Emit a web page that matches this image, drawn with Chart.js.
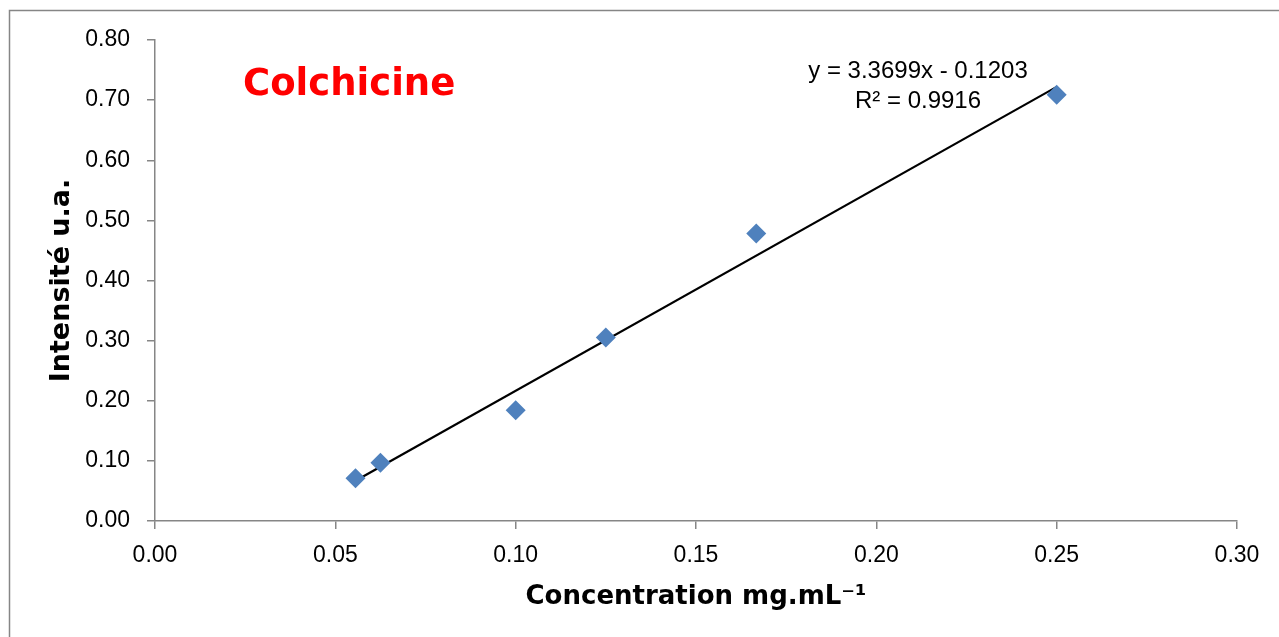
<!DOCTYPE html>
<html>
<head>
<meta charset="utf-8">
<script src="https://cdn.jsdelivr.net/npm/chart.js@4/dist/chart.umd.min.js"></script>
<style>
  html, body { margin: 0; padding: 0; background: #fff; }
  #wrap { width: 1279px; height: 637px; }
</style>
</head>
<body>
<div id="wrap"><canvas id="colchicineChart" width="1279" height="637"></canvas></div>
<script>
// concentrations (mg/mL) and measured intensity (a.u.)
const concentrations = [0.0556, 0.0625, 0.1, 0.125, 0.1667, 0.25];
const intensities = [0.071, 0.097, 0.184, 0.305, 0.478, 0.709];

// linear trendline ends
const trendX = [0.0556, 0.25];
const trendY = [0.067, 0.722];

const xTicks = [0, 0.05, 0.1, 0.15, 0.2, 0.25, 0.3];
const yTicks = [0, 0.1, 0.2, 0.3, 0.4, 0.5, 0.6, 0.7, 0.8];

const equationText = ["y = 3.3699x - 0.1203", "R² = 0.9916"];
const chartTitle = "Colchicine";

const tickFont = { family: "'Liberation Sans', Arial, sans-serif", size: 23 };
const boldFont = "'DejaVu Sans', Verdana, sans-serif";
const axisGrey = "#868686";

// frame, title and equation drawn on top of the canvas
const overlayPlugin = {
  id: "overlay",
  beforeDraw(chart) {
    const ctx = chart.ctx;
    ctx.save();
    ctx.fillStyle = "#fff";
    ctx.fillRect(0, 0, chart.width, chart.height);
    ctx.strokeStyle = axisGrey;
    ctx.lineWidth = 1.5;
    ctx.beginPath();
    ctx.moveTo(9.5, chart.height + 2);
    ctx.lineTo(9.5, 10.5);
    ctx.lineTo(chart.width + 2, 10.5);
    ctx.stroke();
    ctx.restore();
  },
  afterDraw(chart) {
    const ctx = chart.ctx;
    ctx.save();
    ctx.fillStyle = "#ff0000";
    ctx.font = "bold 37px " + boldFont;
    ctx.textBaseline = "middle";
    ctx.textAlign = "left";
    ctx.fillText(chartTitle, 243, 85);

    ctx.fillStyle = "#000";
    ctx.font = "24px 'Liberation Sans', Arial, sans-serif";
    ctx.textAlign = "center";
    ctx.fillText(equationText[0], 918, 71);
    ctx.fillText(equationText[1], 918, 101);
    ctx.restore();
  },
};

const config = {
  type: "scatter",
  data: {
    datasets: [
      {
        label: "Intensité",
        data: concentrations.map((c, i) => ({ x: c, y: intensities[i] })),
        pointStyle: "rectRot",
        pointRadius: 10,
        pointHoverRadius: 10,
        backgroundColor: "#4f81bd",
        borderColor: "#4f81bd",
        borderWidth: 0,
        order: 1,
      },
      {
        label: "Linéaire",
        type: "line",
        data: trendX.map((x, i) => ({ x: x, y: trendY[i] })),
        borderColor: "#000",
        borderWidth: 2.2,
        pointRadius: 0,
        fill: false,
        order: 2,
      },
    ],
  },
  options: {
    responsive: false,
    animation: false,
    layout: { padding: { top: 40, right: 42, left: 0, bottom: 0 } },
    plugins: {
      legend: { display: false },
      tooltip: { enabled: false },
    },
    scales: {
      x: {
        type: "linear",
        min: 0,
        max: 0.3,
        afterBuildTicks: (axis) => { axis.ticks = xTicks.map((v) => ({ value: v })); },
        afterFit: (axis) => { axis.height = 116; },
        grid: {
          display: true,
          drawOnChartArea: false,
          drawTicks: true,
          tickLength: 8,
          color: axisGrey,
          lineWidth: 1.5,
        },
        border: { color: axisGrey, width: 1.5 },
        ticks: {
          color: "#000",
          font: tickFont,
          padding: 13,
          maxRotation: 0,
          callback: (v) => v.toFixed(2),
        },
        title: {
          display: true,
          text: "Concentration mg.mL⁻¹",
          color: "#000",
          font: { family: boldFont, size: 26, weight: "bold" },
          padding: { top: 0, bottom: 24 },
        },
      },
      y: {
        type: "linear",
        min: 0,
        max: 0.8,
        afterBuildTicks: (axis) => { axis.ticks = yTicks.map((v) => ({ value: v })); },
        afterFit: (axis) => { axis.width = 155; },
        grid: {
          display: true,
          drawOnChartArea: false,
          drawTicks: true,
          tickLength: 8,
          color: axisGrey,
          lineWidth: 1.5,
        },
        border: { color: axisGrey, width: 1.5 },
        ticks: {
          color: "#000",
          font: tickFont,
          padding: 17,
          callback: (v) => v.toFixed(2),
        },
        title: {
          display: true,
          text: "Intensité u.a.",
          color: "#000",
          font: { family: boldFont, size: 27, weight: "bold" },
          padding: { top: 46, bottom: 0 },
        },
      },
    },
  },
  plugins: [overlayPlugin],
};

new Chart(document.getElementById("colchicineChart"), config);
</script>
</body>
</html>
